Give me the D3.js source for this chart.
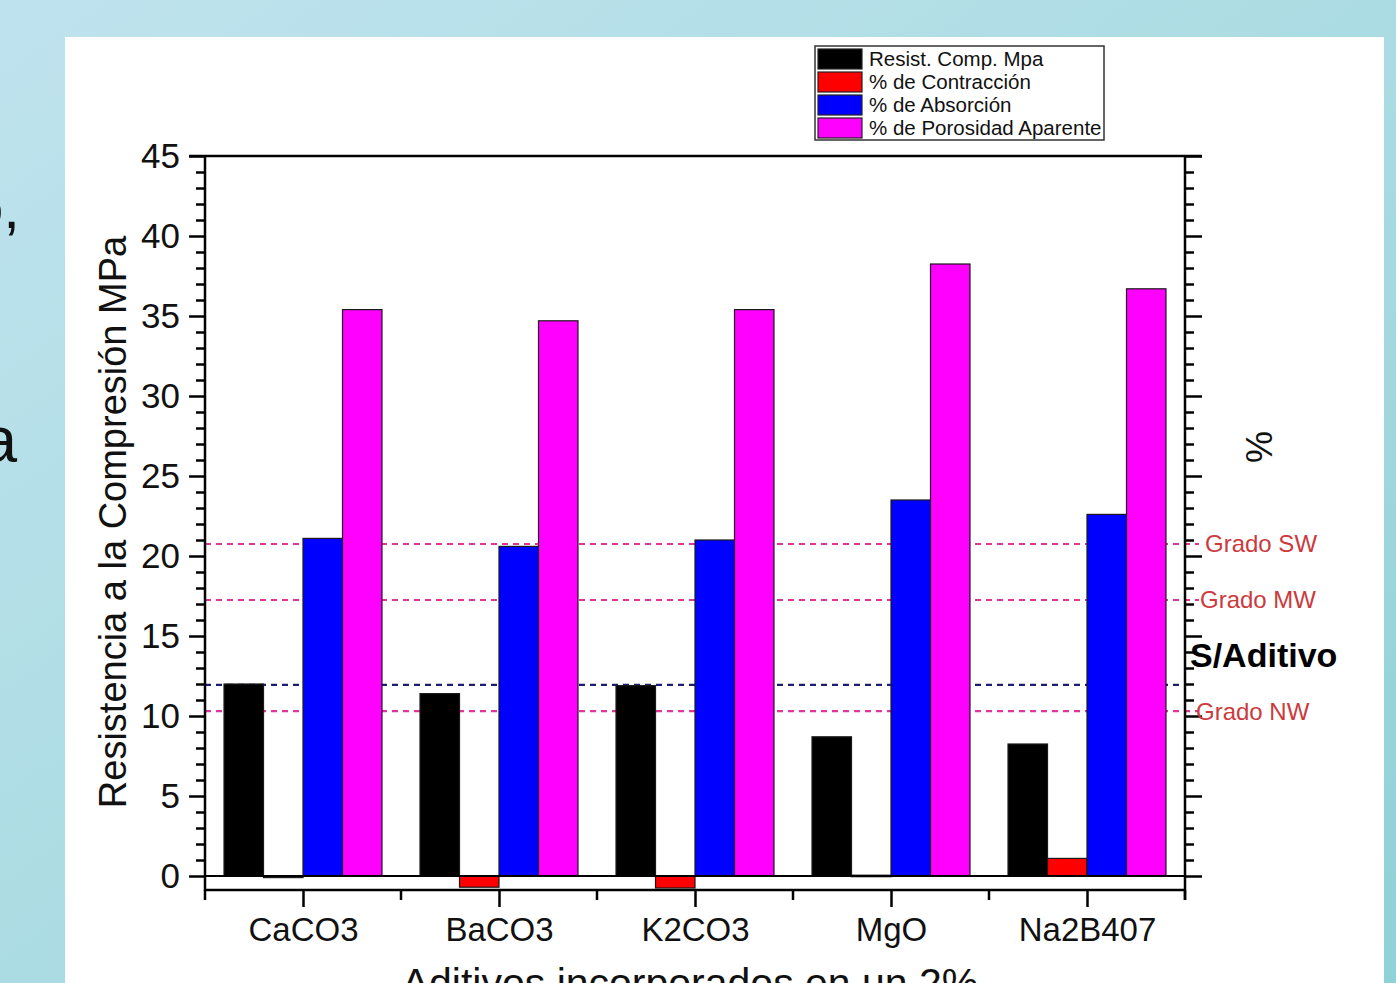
<!DOCTYPE html>
<html>
<head>
<meta charset="utf-8">
<script src="https://cdn.jsdelivr.net/npm/d3@7"></script>
<style>
  html, body { margin: 0; padding: 0; overflow: hidden; }
  svg { display: block; }
</style>
</head>
<body>
<svg id="chart" width="1396" height="983"></svg>
<script>
// Additives incorporated at 2 %
const categories = ["CaCO3", "BaCO3", "K2CO3", "MgO", "Na2B407"];
const seriesNames = ["Resist. Comp. Mpa", "% de Contracción", "% de Absorción", "% de Porosidad Aparente"];
const resistencia = [12.0, 11.4, 11.9, 8.7, 8.25];
const contraccion = [-0.1, -0.7, -0.75, 0.05, 1.1];
const absorcion = [21.1, 20.6, 21.0, 23.5, 22.6];
const porosidad = [35.4, 34.7, 35.4, 38.25, 36.7];
const seriesColors = ["#000000", "#ff0000", "#0000ff", "#ff00ff"];
const yTicks = [0, 5, 10, 15, 20, 25, 30, 35, 40, 45];

// Reference levels
const refNames = ["Grado SW", "Grado MW", "S/Aditivo", "Grado NW"];
const refValues = [20.75, 17.25, 11.95, 10.3];

const seriesValues = [resistencia, contraccion, absorcion, porosidad];

const svg = d3.select("#chart");
const font = "'Liberation Sans', Arial, Helvetica, sans-serif";

// slide background
const defs = svg.append("defs");
const bg = defs.append("linearGradient").attr("id", "bg")
  .attr("x1", "0").attr("y1", "0").attr("x2", "1").attr("y2", "1");
bg.append("stop").attr("offset", "0%").attr("stop-color", "#bfe3ee");
bg.append("stop").attr("offset", "50%").attr("stop-color", "#acdce3");
bg.append("stop").attr("offset", "100%").attr("stop-color", "#8ed1d6");
svg.append("rect").attr("width", 1396).attr("height", 983).attr("fill", "url(#bg)");

// fragments of slide text at the left edge
svg.append("text").attr("x", 20).attr("y", 228).attr("text-anchor", "end")
  .attr("font-family", font).attr("font-size", 60).attr("fill", "#111").text("o,");
svg.append("text").attr("x", 17).attr("y", 462).attr("text-anchor", "end")
  .attr("font-family", font).attr("font-size", 64).attr("fill", "#111").text("a");

// white figure panel
svg.append("rect").attr("x", 65).attr("y", 37).attr("width", 1319).attr("height", 960).attr("fill", "#ffffff");

const plotL = 205, plotR = 1185, plotT = 156, plotB = 890;

const y = d3.scaleLinear().domain([-0.875, 45]).range([plotB, plotT]);
const x0 = d3.scaleBand().domain(categories).range([plotL, plotR]).padding(0);
const gap = x0.bandwidth() * 0.097;
const x1 = d3.scaleBand().domain(seriesNames).range([gap, x0.bandwidth() - gap]).padding(0);

const g = svg.append("g");

// reference lines
const refColors = ["#e0359a", "#e0359a", "#1c1c70", "#e0359a"];
refNames.forEach((name, i) => {
  g.append("line")
    .attr("x1", plotL).attr("x2", name === "S/Aditivo" ? plotR : plotR + 14)
    .attr("y1", y(refValues[i])).attr("y2", y(refValues[i]))
    .attr("stroke", refColors[i]).attr("stroke-width", 2.2)
    .attr("stroke-dasharray", "6,5");
});

// bars
const groups = g.selectAll("g.cat").data(categories).join("g")
  .attr("class", "cat")
  .attr("transform", d => `translate(${x0(d)},0)`);
groups.selectAll("rect")
  .data((d, ci) => seriesNames.map((s, si) => ({ s, si, v: seriesValues[si][ci] })))
  .join("rect")
  .attr("x", d => x1(d.s))
  .attr("width", x1.bandwidth())
  .attr("y", d => y(Math.max(0, d.v)))
  .attr("height", d => Math.max(1.5, Math.abs(y(d.v) - y(0))))
  .attr("fill", d => seriesColors[d.si])
  .attr("stroke", "#1a1a1a").attr("stroke-width", 1.2);

// zero line
g.append("line").attr("x1", plotL).attr("x2", plotR)
  .attr("y1", y(0)).attr("y2", y(0)).attr("stroke", "#000").attr("stroke-width", 2);

// left axis with minor ticks
const minorVals = d3.range(0, 46, 1).filter(v => v % 5 !== 0);
const axisStyle = sel => {
  sel.select(".domain").remove();
  sel.selectAll("line").attr("stroke", "#000").attr("stroke-width", 2.5);
};
const yLeft = g.append("g").attr("transform", `translate(${plotL},0)`)
  .call(d3.axisLeft(y).tickValues(yTicks).tickSize(16).tickPadding(9).tickFormat(d3.format("d")))
  .call(axisStyle);
yLeft.selectAll("text").attr("font-family", font).attr("font-size", 35).attr("fill", "#111");
g.append("g").attr("transform", `translate(${plotL},0)`)
  .call(d3.axisLeft(y).tickValues(minorVals).tickSize(9).tickFormat(""))
  .call(axisStyle);

// right axis
g.append("g").attr("transform", `translate(${plotR},0)`)
  .call(d3.axisRight(y).tickValues(yTicks).tickSize(17).tickFormat(""))
  .call(axisStyle);
g.append("g").attr("transform", `translate(${plotR},0)`)
  .call(d3.axisRight(y).tickValues(minorVals).tickSize(9).tickFormat(""))
  .call(axisStyle);

// bottom axis: major ticks at categories, minor at boundaries
const xAxisG = g.append("g").attr("transform", `translate(0,${plotB})`)
  .call(d3.axisBottom(d3.scalePoint().domain(categories).range([plotL + x0.bandwidth() / 2, plotR - x0.bandwidth() / 2]))
    .tickSize(17).tickPadding(11))
  .call(axisStyle);
xAxisG.selectAll("text").attr("font-family", font).attr("font-size", 33).attr("fill", "#111");
const boundaries = d3.range(0, categories.length + 1).map(i => plotL + i * x0.bandwidth());
g.append("g").selectAll("line").data(boundaries).join("line")
  .attr("x1", d => d).attr("x2", d => d)
  .attr("y1", plotB).attr("y2", plotB + 10)
  .attr("stroke", "#000").attr("stroke-width", 2.5);

// frame
g.append("line").attr("x1", plotL).attr("x2", plotL).attr("y1", plotT).attr("y2", plotB + 1)
  .attr("stroke", "#000").attr("stroke-width", 2.5);
g.append("line").attr("x1", plotR).attr("x2", plotR).attr("y1", plotT).attr("y2", plotB + 10)
  .attr("stroke", "#000").attr("stroke-width", 2.5);
g.append("line").attr("x1", plotL).attr("x2", plotR).attr("y1", plotB).attr("y2", plotB)
  .attr("stroke", "#000").attr("stroke-width", 2.5);
g.append("line").attr("x1", plotL - 16).attr("x2", plotR + 17).attr("y1", plotT).attr("y2", plotT)
  .attr("stroke", "#000").attr("stroke-width", 2.5);

// axis titles
svg.append("text")
  .attr("transform", `translate(126,522) rotate(-90)`)
  .attr("text-anchor", "middle").attr("font-family", font).attr("font-size", 38).attr("fill", "#111")
  .text("Resistencia a la Compresión MPa");
svg.append("text")
  .attr("transform", `translate(1272,447) rotate(-90)`)
  .attr("text-anchor", "middle").attr("font-family", font).attr("font-size", 36).attr("fill", "#111")
  .text("%");
svg.append("text")
  .attr("x", 690).attr("y", 997)
  .attr("text-anchor", "middle").attr("font-family", font).attr("font-size", 41).attr("fill", "#111")
  .text("Aditivos incorporados en un 2%");

// reference labels
const refLabelX = [1205, 1200, 1190, 1196];
const refLabelDy = [0, 0, -30, 0];
refNames.forEach((name, i) => {
  const bold = name === "S/Aditivo";
  svg.append("text")
    .attr("x", refLabelX[i]).attr("y", y(refValues[i]) + refLabelDy[i])
    .attr("dy", "0.35em")
    .attr("font-family", font)
    .attr("font-size", bold ? 34 : 24)
    .attr("font-weight", bold ? "bold" : "normal")
    .attr("fill", bold ? "#000" : "#cc3a3e")
    .text(name);
});

// legend
const lg = svg.append("g").attr("transform", "translate(815,46)");
lg.append("rect").attr("width", 289).attr("height", 94)
  .attr("fill", "#fff").attr("stroke", "#333").attr("stroke-width", 1.5);
seriesNames.forEach((s, i) => {
  lg.append("rect").attr("x", 3).attr("y", 3 + i * 23).attr("width", 44).attr("height", 20)
    .attr("fill", seriesColors[i]).attr("stroke", "#222").attr("stroke-width", 1.2);
  lg.append("text").attr("x", 54).attr("y", 13 + i * 23).attr("dy", "0.35em")
    .attr("font-family", font).attr("font-size", 20.5).attr("fill", "#111").text(s);
});
</script>
</body>
</html>
